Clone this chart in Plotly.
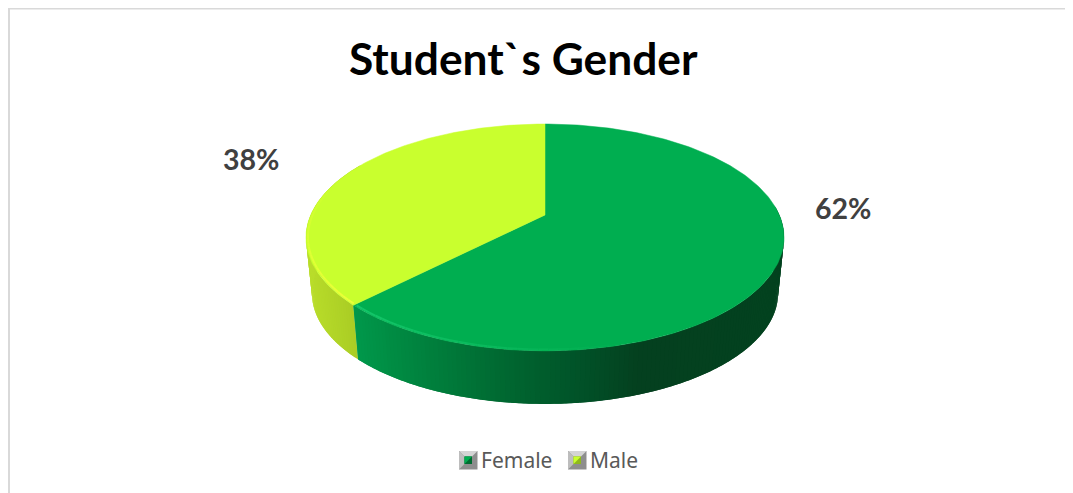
import numpy as np
import plotly.graph_objects as go

TITLE = "Student`s Gender"
categories = ["Female", "Male"]
values = [62.4, 37.6]
top_colors = ["#00AE50", "#C9FF2E"]
inner_dark = ["#006B30", "#8FB81E"]

W, H = 1073, 493
PAGE_MARGIN = 8
CX, APEX_Y = 545.0, 215.0
A, B, K = 234.3, 109.0, 0.198
SCALE_BOTTOM, DROP = 0.975, 56.4


def project(theta_deg, lower=False, r=1.0):
    t = np.radians(np.asarray(theta_deg, dtype=float))
    x, y = r * np.sin(t), r * np.cos(t)
    w = 1 + K * y
    X, Y = A * x / w, B * y / w
    if lower:
        return CX + X * SCALE_BOTTOM, APEX_Y + DROP - Y * SCALE_BOTTOM
    return CX + X, APEX_Y - Y


def hexrgb(c):
    c = c.lstrip("#")
    return np.array([int(c[i:i + 2], 16) for i in (0, 2, 4)], dtype=float)


def ramp(x, stops):
    xs = [s[0] for s in stops]
    chans = [np.interp(x, xs, [hexrgb(s[1])[i] for s in stops]) for i in range(3)]
    return "rgb(%d,%d,%d)" % tuple(int(round(c)) for c in chans)


side_stops = [
    [(353, "#009A4C"), (400, "#008A42"), (450, "#007A3A"), (520, "#00642F"),
     (570, "#00562A"), (640, "#04401F"), (790, "#03421F")],
    [(300, "#BCE02C"), (360, "#A9CC24")],
]

fracs = np.array(values) / sum(values)
edges = np.concatenate([[0], np.cumsum(fracs) * 360])

fig = go.Figure()

# walls: each strip overlaps the next one so no seams show
for i in [1, 0]:
    a0, a1 = edges[i], edges[i + 1]
    lo = 85 if i == 0 else a0
    hi = a1 if i == 0 else 300
    step = 1.0
    grid = np.arange(lo, hi, step)
    for g0 in grid:
        seg = np.linspace(g0, min(g0 + 2 * step, hi), 4)
        xt, yt = project(seg)
        xb, yb = project(seg, lower=True)
        col = ramp((xt[0] + xb[0]) / 2, side_stops[i])
        fig.add_trace(go.Scatter(
            x=np.concatenate([xt, xb[::-1]]), y=np.concatenate([yt, yb[::-1]]),
            mode="none", fill="toself", fillcolor=col,
            hoverinfo="skip", showlegend=False))

# top faces
for i in range(len(values)):
    ang = np.linspace(edges[i], edges[i + 1], 240)
    xs, ys = project(ang)
    fig.add_trace(go.Scatter(
        x=np.concatenate([[CX], xs, [CX]]), y=np.concatenate([[APEX_Y], ys, [APEX_Y]]),
        mode="lines", fill="toself", fillcolor=top_colors[i],
        line=dict(color=top_colors[i], width=0.5), hoverinfo="skip", showlegend=False))

# bevel highlight along the front rim
for a_start, a_end, c_from, c_to in [
    (edges[1] - 0.5, 165, "#14C66A", "#00AE50"),
    (edges[1] + 0.5, 285, "#ECFF38", "#C9FF2E"),
]:
    ang = np.linspace(a_start, a_end, 30)
    for a0, a1 in zip(ang[:-1], ang[1:]):
        f = (a0 - a_start) / (a_end - a_start)
        col = ramp(f, [(0, c_from), (1, c_to)])
        xs, ys = project(np.array([a0, a1]), r=0.992)
        fig.add_trace(go.Scatter(
            x=xs, y=ys, mode="lines",
            line=dict(color=col, width=2), hoverinfo="skip", showlegend=False))

shapes = [
    dict(type="line", xref="x", yref="y", x0=9, x1=W, y0=8.5, y1=8.5,
         line=dict(color="#D9D9D9", width=2)),
    dict(type="line", xref="x", yref="y", x0=9, x1=9, y0=8, y1=H,
         line=dict(color="#D9D9D9", width=2)),
]


def poly(pts, color):
    path = "M " + " L ".join(f"{x} {y}" for x, y in pts) + " Z"
    return dict(type="path", xref="x", yref="y", path=path, fillcolor=color,
                line=dict(width=0), layer="above")


# legend keys and names, drawn by hand for the bevelled icons
icon_left = [459, 568]
text_x = [479, 588]
icon_top, icon_size, inset = 451, 18.5, 5.5
annotations = []
for name, col, dark, ix, tx in zip(categories, top_colors, inner_dark, icon_left, text_x):
    x0, x1, y0, y1 = ix, ix + icon_size, icon_top, icon_top + icon_size
    ix0, ix1, iy0, iy1 = x0 + inset, x1 - inset, y0 + inset, y1 - inset
    shapes += [
        poly([(x0, y0), (x1, y0), (x1, y1), (x0, y1)], "#8E8E8E"),
        poly([(x0, y0), (x1, y0), (ix1, iy0), (ix0, iy0)], "#D4D4D4"),
        poly([(x0, y0), (ix0, iy0), (ix0, iy1), (x0, y1)], "#BDBDBD"),
        poly([(ix0, iy0), (ix1, iy0), (ix1, iy1), (ix0, iy1)], dark),
        poly([(ix0, iy0), (ix1, iy0), (ix0, iy1)], col),
    ]
    annotations.append(dict(x=tx, y=459.5, xref="x", yref="y", xanchor="left", text=name,
                            showarrow=False,
                            font=dict(family="Noto Sans", size=21, color="#595959")))

label_pos = [(842.5, 207.5), (251, 158.5)]
annotations += [
    dict(x=p[0], y=p[1], xref="x", yref="y", text=f"<b>{round(v)}%</b>", showarrow=False,
         font=dict(family="Lato", size=28.5, color="#404040"))
    for v, p in zip(values, label_pos)
]
annotations.append(dict(x=523.5, y=57, xref="x", yref="y", text=f"<b>{TITLE}</b>", showarrow=False,
                        font=dict(family="Lato", size=44.3, color="#000000")))

fig.update_layout(
    width=W - PAGE_MARGIN, height=H - PAGE_MARGIN, autosize=False,
    margin=dict(l=0, r=0, t=0, b=0),
    paper_bgcolor="white", plot_bgcolor="white",
    showlegend=False,
    xaxis=dict(range=[PAGE_MARGIN, W], visible=False, fixedrange=True),
    yaxis=dict(range=[H, PAGE_MARGIN], visible=False, fixedrange=True),
    annotations=annotations,
    shapes=shapes,
)
fig.write_html("out.html", config=dict(displayModeBar=False))
